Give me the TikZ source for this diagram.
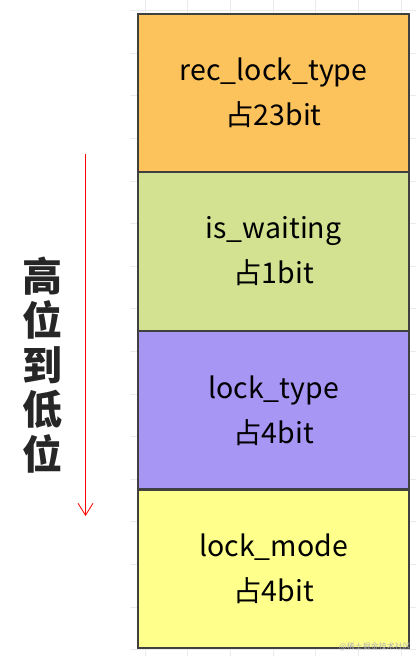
\documentclass[tikz,border=0pt]{standalone}
\usepackage{fontspec}
\setmainfont{Noto Sans CJK SC}
\usetikzlibrary{positioning,arrows.meta}
\definecolor{recorange}{RGB}{252,194,92}
\definecolor{waitgreen}{RGB}{210,226,144}
\definecolor{typepurple}{RGB}{168,150,245}
\definecolor{modeyellow}{RGB}{255,255,140}
\begin{document}
\begin{tikzpicture}[x=1pt,y=-1pt,
  field/.style={draw=black!75,line width=1.3pt,minimum width=271pt,minimum height=157.5pt,
    inner sep=0pt,align=center,font=\fontsize{28.5}{45}\selectfont},
  gridline/.style={black!8,line width=0.8pt}]
\fill[white] (0,0) rectangle (416,656);
\useasboundingbox (0,0) rectangle (416,656);
% sheet grid behind the fields
\foreach \i in {0,...,6} {\draw[gridline] ({145+42.7*\i},0) -- ({145+42.7*\i},656);}
\foreach \j in {0,...,15} {\draw[gridline] (130,{10.5+42.6*\j}) -- (416,{10.5+42.6*\j});}
% fields, high bits on top
\node[field,fill=recorange] (rec) at (273.5,92.75) {rec\_lock\_type\\占23bit};
\node[field,fill=waitgreen,below=0pt of rec] (wait) {is\_waiting\\占1bit};
\node[field,fill=typepurple,below=0pt of wait] (type) {lock\_type\\占4bit};
\node[field,fill=modeyellow,below=0pt of type] (mode) {lock\_mode\\占4bit};
% direction
\coordinate (high) at (85.5,154);
\coordinate (low) at (85.5,516);
\draw[red,line width=0.8pt,-{Straight Barb[length=12pt,width=15pt]}] (high) -- (low);
\node[font=\fontsize{40}{44.5}\selectfont\bfseries,text=black!85,align=center,inner sep=0pt] (dir) at (42,365) {高\\位\\到\\低\\位};
\node[font=\fontsize{8}{9}\selectfont,text=black!30,inner sep=0pt] (mark) at (375,647) {@稀土掘金技术社区};
\end{tikzpicture}
\end{document}
